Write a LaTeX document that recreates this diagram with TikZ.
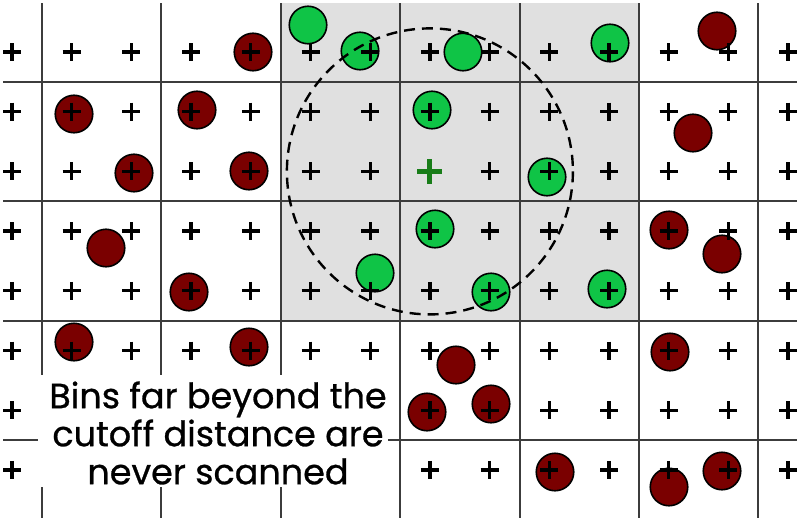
\documentclass[tikz,border=0pt]{standalone}
\usepackage{fontspec}
\newfontfamily\labelfont[FakeBold=0.8]{Poppins}
\definecolor{cellgray}{RGB}{224,224,224}
\definecolor{binred}{RGB}{122,0,0}
\definecolor{bingreen}{RGB}{15,196,70}
\definecolor{centergreen}{RGB}{25,125,25}
\definecolor{linegray}{RGB}{60,60,60}
\tikzset{
  binline/.style={draw=linegray, line width=2pt},
  particle/.style={circle, draw=black, line width=1.6pt, minimum size=37.5pt, inner sep=0pt},
  redp/.style={particle, fill=binred},
  greenp/.style={particle, fill=bingreen},
  plusmark/.style={draw=black, line width=3.3pt},
  centerplus/.style={draw=centergreen, line width=5pt},
  cutoff/.style={draw=black, line width=2.4pt, dash pattern=on 11pt off 7pt},
}
\begin{document}
\begin{tikzpicture}[x=1pt,y=-1pt]
\useasboundingbox (0,0) rectangle (800,522);
% scanned neighbourhood
\fill[cellgray] (280.8,3) rectangle (639,320.8);
% bin grid
\foreach \x in {42,161.4,280.8,400.2,519.6,639,758.4}
  \draw[binline] (\x,3) -- (\x,518);
\foreach \y in {82,201.4,320.8,440.2}
  \draw[binline] (3,\y) -- (797,\y);
% particles
\foreach \p [count=\k] in {(308,25),(360,51),(463,52),(610,43),(432,110),(547,177),(435,229),(375,273),(491,292),(607,289)}
  \node[greenp] (g\k) at \p {};
\foreach \p [count=\k] in {(253,52),(74,114),(197,110),(134,173),(249,171),(106,248),(189,292),(74,342),(249,347),(717,31),(693,133),(669,230),(722,254),(456,365),(427,412),(491,404),(555,472),(670,352),(669,487),(722,471)}
  \node[redp] (r\k) at \p {};
% lattice points
\foreach \i in {0,...,13}
  \foreach \j in {0,...,7}
    \draw[plusmark] ({12+59.7*\i-9},{52+59.7*\j}) -- ++(18,0)
                    ({12+59.7*\i},{52+59.7*\j-9}) -- ++(0,18);
% centre point
\coordinate (centre) at (429.9,171.4);
\draw[centerplus] ([xshift=-12.5pt]centre) -- ([xshift=12.5pt]centre)
                  ([yshift=-12.5pt]centre) -- ([yshift=12.5pt]centre);
% cutoff circle
\draw[cutoff] (centre) circle[radius=143];
% caption
\fill[white] (38,375) rectangle (388,487);
\node[font=\labelfont\fontsize{35}{38}\selectfont, align=center, inner sep=0pt] (caption) at (218,433)
  {Bins far beyond the\\cutoff distance are\\never scanned};
\end{tikzpicture}
\end{document}
